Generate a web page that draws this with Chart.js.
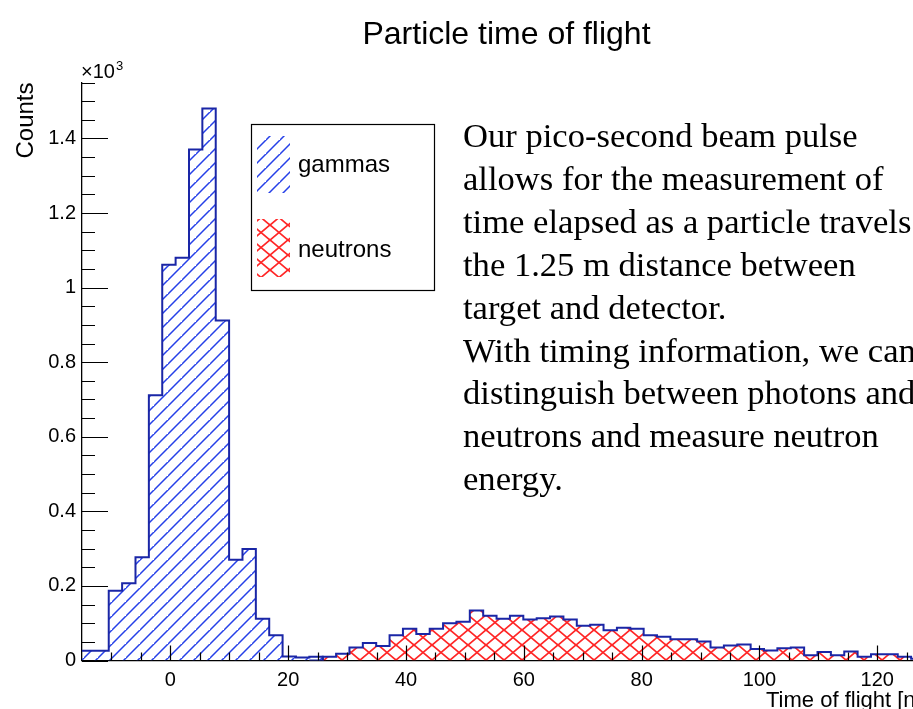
<!DOCTYPE html>
<html>
<head>
<meta charset="utf-8">
<title>Particle time of flight</title>
<script src="https://cdn.jsdelivr.net/npm/chart.js@4.4.1/dist/chart.umd.min.js"></script>
<style>
  html, body { margin: 0; padding: 0; background: #fff; }
  #wrap { width: 913px; height: 709px; }
</style>
</head>
<body>
<div id="wrap"><canvas id="tof" width="913" height="709"></canvas></div>
<script>
// histogram bin low edges [ns]
const binEdges = [
  -15, -12.73, -10.46, -8.19, -5.92, -3.65, -1.38, 0.89, 3.16, 5.43,
  7.7, 9.97, 12.24, 14.51, 16.78, 19.05, 21.32, 23.59, 25.86, 28.13,
  30.4, 32.67, 34.94, 37.21, 39.48, 41.75, 44.02, 46.29, 48.56, 50.83,
  53.1, 55.37, 57.64, 59.91, 62.18, 64.45, 66.72, 68.99, 71.26, 73.53,
  75.8, 78.07, 80.34, 82.61, 84.88, 87.15, 89.42, 91.69, 93.96, 96.23,
  98.5, 100.77, 103.04, 105.31, 107.58, 109.85, 112.12, 114.39, 116.66, 118.93,
  121.2, 123.47, 125.74, 128.01
];

// counts per bin, gammas start at bin 0
const gammaCounts = [26, 26, 187, 207, 277, 711, 1061, 1080, 1370, 1480,
  912, 270, 299, 112, 68, 11, 8, 10];

// neutrons start at bin 18
const neutronFirstBin = 18;
const neutronCounts = [10, 18, 35, 47, 39, 68, 85, 71, 85, 100,
  104, 134, 120, 112, 120, 110, 113, 118, 110, 93,
  96, 81, 88, 85, 68, 64, 57, 57, 51, 35,
  40, 43, 31, 27, 33, 35, 14, 23, 14, 24,
  10, 17, 17, 10, 5];

const xTicks = [0, 20, 40, 60, 80, 100, 120];
const yTicks = [0, 200, 400, 600, 800, 1000, 1200, 1400];
const yTickLabels = ["0", "0.2", "0.4", "0.6", "0.8", "1", "1.2", "1.4"];

const noteLines = [
  "Our pico-second beam pulse",
  "allows for the measurement of",
  "time elapsed as a particle travels",
  "the 1.25 m distance between",
  "target and detector.",
  "With timing information, we can",
  "distinguish between photons and",
  "neutrons and measure neutron",
  "energy."
];

const SANS = "'Liberation Sans', Arial, Helvetica, sans-serif";
const SERIF = "'Liberation Serif', 'Times New Roman', serif";
const BLUE_LINE = "#1a26a6";
const BLUE_HATCH = "#2640e8";
const RED_HATCH = "#ff2626";

function makeHatch(color, w, h, cross, lw) {
  const c = document.createElement("canvas");
  c.width = w; c.height = h;
  const g = c.getContext("2d");
  g.strokeStyle = color;
  g.lineWidth = lw;
  g.beginPath();
  // "/" direction
  g.moveTo(-1, h + 1); g.lineTo(w + 1, -1);
  g.moveTo(-w - 1, h + 1); g.lineTo(1, -1);
  g.moveTo(w - 1, 2 * h + 1); g.lineTo(2 * w + 1, h - 1);
  if (cross) {
    // "\" direction
    g.moveTo(-1, -1); g.lineTo(w + 1, h + 1);
    g.moveTo(-w - 1, -1 - h); g.lineTo(1, 1);
    g.moveTo(w - 1, h - 1); g.lineTo(2 * w + 1, 2 * h + 1);
  }
  g.stroke();
  return g.createPattern(c, "repeat");
}

const ctx = document.getElementById("tof").getContext("2d");
const gammaFill = makeHatch(BLUE_HATCH, 14, 14, false, 1.5);
const neutronFill = makeHatch(RED_HATCH, 18, 15, true, 1.6);

// step outlines: one point per bin low edge, closing at the last edge
const gammaPts = gammaCounts.map((v, i) => ({ x: binEdges[i], y: v }));
gammaPts.push({ x: binEdges[gammaCounts.length], y: 0 });

const neutronPts = [{ x: binEdges[neutronFirstBin - 1], y: 0 }];
neutronCounts.forEach((v, i) => neutronPts.push({ x: binEdges[neutronFirstBin + i], y: v }));
neutronPts.push({ x: binEdges[neutronFirstBin + neutronCounts.length], y: 0 });

const rootDecor = {
  id: "rootDecor",
  afterDatasetsDraw(chart) {
    const { ctx, chartArea: a, scales: { x, y } } = chart;
    ctx.save();

    // ticks drawn inside the frame, ROOT style
    ctx.strokeStyle = "#000";
    ctx.lineWidth = 1.2;
    ctx.beginPath();
    for (let v = -10; v <= 125; v += 5) {
      const px = Math.round(x.getPixelForValue(v)) + 0.5;
      const len = xTicks.includes(v) ? 15 : 8;
      ctx.moveTo(px, a.bottom); ctx.lineTo(px, a.bottom - len);
    }
    for (let v = 0; v <= 1550; v += 50) {
      const py = Math.round(y.getPixelForValue(v)) + 0.5;
      const len = v % 200 === 0 ? 26 : 13;
      ctx.moveTo(a.left, py); ctx.lineTo(a.left + len, py);
    }
    ctx.stroke();

    ctx.fillStyle = "#000";
    ctx.textBaseline = "alphabetic";

    // title
    ctx.font = "32px " + SANS;
    ctx.textAlign = "center";
    ctx.fillText("Particle time of flight", 506.5, 44);

    // x10^3 multiplier
    ctx.textAlign = "left";
    ctx.font = "20px " + SANS;
    ctx.fillText("\u00d710", a.left - 1, 78);
    const w10 = ctx.measureText("\u00d710").width;
    ctx.font = "13px " + SANS;
    ctx.fillText("3", a.left - 1 + w10 + 1, 70);

    // axis titles
    ctx.font = "22px " + SANS;
    ctx.fillText("Time of flight [ns]", 766, 707);
    ctx.save();
    ctx.translate(33, a.top);
    ctx.rotate(-Math.PI / 2);
    ctx.textAlign = "right";
    ctx.font = "24px " + SANS;
    ctx.fillText("Counts", 0, 0);
    ctx.restore();

    // legend box
    ctx.fillStyle = "#fff";
    ctx.fillRect(251.5, 124.5, 183, 166);
    ctx.strokeStyle = "#000";
    ctx.lineWidth = 1.2;
    ctx.strokeRect(251.5, 124.5, 183, 166);
    ctx.fillStyle = gammaFill;
    ctx.fillRect(257, 136, 33, 57);
    ctx.fillStyle = neutronFill;
    ctx.fillRect(257, 219, 33, 58);
    ctx.fillStyle = "#000";
    ctx.font = "24px " + SANS;
    ctx.fillText("gammas", 298, 172);
    ctx.fillText("neutrons", 298, 257);

    // annotation text
    ctx.font = "34.6px " + SERIF;
    noteLines.forEach((line, i) => ctx.fillText(line, 463, 147 + i * 42.9));

    ctx.restore();
  }
};

new Chart(ctx, {
  type: "line",
  data: {
    datasets: [
      {
        label: "gammas",
        data: gammaPts,
        stepped: true,
        borderColor: BLUE_LINE,
        borderWidth: 2,
        backgroundColor: gammaFill,
        fill: "origin",
        pointRadius: 0,
      },
      {
        label: "neutrons",
        data: neutronPts,
        stepped: true,
        borderColor: BLUE_LINE,
        borderWidth: 2,
        backgroundColor: neutronFill,
        fill: "origin",
        pointRadius: 0,
      },
    ],
  },
  options: {
    responsive: false,
    animation: false,
    devicePixelRatio: 1,
    layout: { padding: { top: 82.5, left: 0, right: 0, bottom: 0 } },
    plugins: {
      legend: { display: false },
      title: { display: false },
      tooltip: { enabled: false },
    },
    scales: {
      x: {
        type: "linear",
        min: -15,
        max: 126.06,
        grid: { display: false, drawTicks: false },
        border: { display: true, color: "#000", width: 1.3 },
        afterBuildTicks: (axis) => { axis.ticks = xTicks.map((v) => ({ value: v })); },
        afterFit: (axis) => { axis.height = 48.5; },
        ticks: {
          autoSkip: false,
          maxRotation: 0,
          padding: 8,
          color: "#000",
          font: { family: SANS, size: 20 },
          callback: (v) => String(v),
        },
      },
      y: {
        min: 0,
        max: 1550,
        grid: { display: false, drawTicks: false },
        border: { display: true, color: "#000", width: 1.3 },
        afterBuildTicks: (axis) => { axis.ticks = yTicks.map((v) => ({ value: v })); },
        afterFit: (axis) => { axis.width = 82; },
        ticks: {
          autoSkip: false,
          padding: 6,
          color: "#000",
          font: { family: SANS, size: 20 },
          callback: (v) => yTickLabels[yTicks.indexOf(v)],
        },
      },
    },
  },
  plugins: [rootDecor],
});
</script>
</body>
</html>
